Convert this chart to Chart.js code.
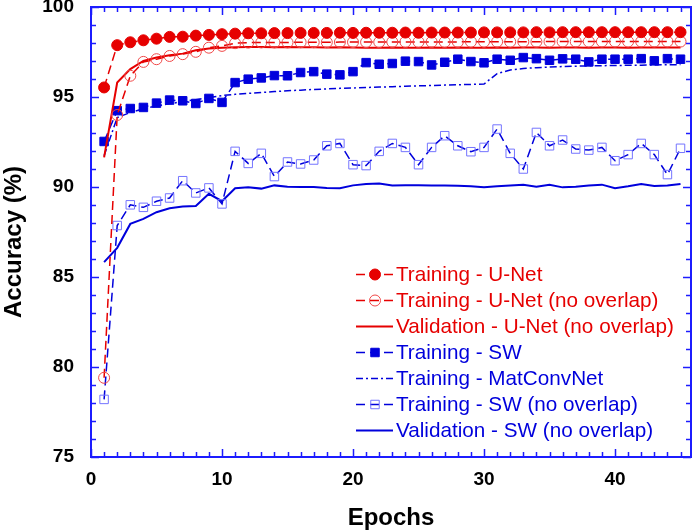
<!DOCTYPE html>
<html>
<head>
<meta charset="utf-8">
<script src="https://cdn.jsdelivr.net/npm/chart.js@4.4.1/dist/chart.umd.min.js"></script>
<style>
  html, body { margin: 0; padding: 0; background: #fff; overflow: hidden; }
  #wrap { width: 694px; height: 531px; overflow: hidden; }
</style>
</head>
<body>
<!-- canvas is 4px wider than the page: Chart.js keeps a 7px right gutter, the original only 3px -->
<div id="wrap"><canvas id="acc" width="698" height="531"></canvas></div>
<script>
// Accuracy vs epochs
const epochs = [1, 2, 3, 4, 5, 6, 7, 8, 9, 10, 11, 12, 13, 14, 15, 16, 17, 18, 19, 20,
  21, 22, 23, 24, 25, 26, 27, 28, 29, 30, 31, 32, 33, 34, 35, 36, 37, 38, 39, 40,
  41, 42, 43, 44, 45];

const trainUNet = [95.53, 97.88, 98.04, 98.15, 98.24, 98.34, 98.35, 98.41, 98.45, 98.49,
  98.52, 98.54, 98.54, 98.55, 98.55, 98.56, 98.56, 98.56, 98.57, 98.56,
  98.57, 98.57, 98.57, 98.58, 98.57, 98.58, 98.58, 98.58, 98.58, 98.59,
  98.59, 98.59, 98.59, 98.6, 98.59, 98.6, 98.6, 98.6, 98.6, 98.6,
  98.6, 98.6, 98.6, 98.6, 98.6];

const trainUNetNoOv = [79.4, 94.0, 96.18, 96.95, 97.1, 97.28, 97.38, 97.51, 97.74, 97.84,
  97.99, 98.02, 98.03, 98.03, 98.03, 98.04, 98.04, 98.04, 98.05, 98.05,
  98.05, 98.05, 98.06, 98.06, 98.06, 98.06, 98.06, 98.06, 98.07, 98.07,
  98.07, 98.07, 98.07, 98.07, 98.08, 98.08, 98.08, 98.08, 98.08, 98.08,
  98.08, 98.08, 98.08, 98.08, 98.08];

const valUNetNoOv = [91.65, 95.8, 96.55, 97.0, 97.19, 97.32, 97.41, 97.6, 97.69, 97.74,
  97.76, 97.78, 97.78, 97.77, 97.78, 97.77, 97.76, 97.75, 97.76, 97.75,
  97.74, 97.74, 97.75, 97.74, 97.74, 97.75, 97.74, 97.75, 97.74, 97.74,
  97.75, 97.74, 97.75, 97.75, 97.74, 97.75, 97.75, 97.74, 97.75, 97.75,
  97.74, 97.75, 97.75, 97.75, 97.75];

const trainSW = [92.53, 94.24, 94.36, 94.42, 94.66, 94.83, 94.79, 94.64, 94.92, 94.7,
  95.8, 95.99, 96.06, 96.19, 96.18, 96.36, 96.41, 96.27, 96.23, 96.41,
  96.91, 96.82, 96.86, 96.99, 96.97, 96.78, 96.93, 97.1, 96.97, 96.9,
  97.1, 97.04, 97.19, 97.13, 97.04, 97.12, 97.1, 96.95, 97.1, 97.1,
  97.1, 97.13, 97.01, 97.13, 97.1];

const trainMatConvNet = [91.74, 93.86, 94.14, 94.35, 94.5, 94.62, 94.75, 94.85, 94.97, 95.08,
  95.15, 95.2, 95.25, 95.3, 95.35, 95.38, 95.42, 95.45, 95.48, 95.5,
  95.53, 95.55, 95.57, 95.6, 95.62, 95.64, 95.66, 95.68, 95.7, 95.72,
  96.3, 96.5, 96.58, 96.63, 96.66, 96.69, 96.71, 96.73, 96.74, 96.75,
  96.76, 96.77, 96.78, 96.79, 96.8];

const trainSWNoOv = [78.2, 87.86, 89.01, 88.87, 89.21, 89.39, 90.35, 89.67, 89.95, 89.06,
  91.98, 91.31, 91.87, 90.58, 91.39, 91.28, 91.5, 92.29, 92.42, 91.24,
  91.19, 91.98, 92.42, 92.2, 91.24, 92.2, 92.85, 92.29, 91.96, 92.2,
  93.22, 91.87, 91.0, 93.03, 92.29, 92.61, 92.11, 92.05, 92.2, 91.46,
  91.8, 92.42, 91.8, 90.69, 92.15];

const valSWNoOv = [85.83, 86.62, 87.95, 88.23, 88.6, 88.82, 88.91, 88.95, 89.62, 89.21,
  89.93, 89.98, 89.91, 90.09, 90.02, 90.0, 90.0, 89.95, 89.93, 90.09,
  90.17, 90.2, 90.08, 90.1, 90.1, 90.09, 90.08, 90.07, 90.04, 89.98,
  90.04, 90.08, 90.13, 90.02, 90.13, 89.98, 90.02, 90.08, 90.13, 89.93,
  90.04, 90.17, 90.06, 90.09, 90.17];

const xTicksMajor = [0, 10, 20, 30, 40];
const yTicksMajor = [75, 80, 85, 90, 95, 100];

const RED = '#e60000';
const RED_LIGHT = '#f04848';
const BLUE = '#0000dc';
const BLUE_LIGHT = '#7474ff';
const FRAME = '#1c1cff';
const FONT = '"Liberation Sans", Arial, Helvetica, sans-serif';
const DASH = [9, 5];

function pts(vals) {
  return epochs.map((e, i) => ({ x: e, y: vals[i] }));
}

// blue box with inward ticks on all four sides
const framePlugin = {
  id: 'frame',
  afterDatasetsDraw(chart) {
    const { ctx, chartArea: a, scales: { x, y } } = chart;
    ctx.save();
    ctx.strokeStyle = FRAME;
    ctx.lineWidth = 1.5;
    for (let e = 0; e <= 45; e++) {
      const px = Math.round(x.getPixelForValue(e)) + 0.5;
      const len = xTicksMajor.includes(e) ? 8 : 5;
      ctx.beginPath();
      ctx.moveTo(px, a.bottom); ctx.lineTo(px, a.bottom - len);
      ctx.moveTo(px, a.top); ctx.lineTo(px, a.top + len);
      ctx.stroke();
    }
    for (let v = 75; v <= 100; v++) {
      const py = Math.round(y.getPixelForValue(v)) + 0.5;
      const len = yTicksMajor.includes(v) ? 8 : 5;
      ctx.beginPath();
      ctx.moveTo(a.left, py); ctx.lineTo(a.left + len, py);
      ctx.moveTo(a.right, py); ctx.lineTo(a.right - len, py);
      ctx.stroke();
    }
    ctx.lineWidth = 2;
    ctx.strokeRect(a.left, a.top, a.right - a.left, a.bottom - a.top);
    ctx.restore();
  },
};

function drawMarker(ctx, ds, cx, cy) {
  const r = ds.pointRadius;
  if (!r) return;
  ctx.save();
  ctx.setLineDash([]);
  ctx.lineWidth = ds.pointBorderWidth || 1;
  ctx.strokeStyle = ds.pointBorderColor;
  ctx.fillStyle = ds.pointBackgroundColor;
  ctx.beginPath();
  if (ds.pointStyle === 'rect') {
    const h = r * Math.SQRT1_2;
    ctx.rect(cx - h, cy - h, 2 * h, 2 * h);
  } else {
    ctx.arc(cx, cy, r, 0, Math.PI * 2);
  }
  ctx.fill();
  ctx.stroke();
  ctx.restore();
}

// legend inside the plot, coloured text
const legendPlugin = {
  id: 'inlineLegend',
  afterDraw(chart) {
    const { ctx } = chart;
    const x0 = 356, x1 = 393, xm = 375, xt = 396;
    ctx.save();
    chart.data.datasets.forEach((ds, i) => {
      const yy = 274.5 + i * 26;
      ctx.setLineDash(ds.borderDash || []);
      ctx.strokeStyle = ds.borderColor;
      ctx.lineWidth = ds.borderWidth;
      ctx.beginPath();
      ctx.moveTo(x0, yy); ctx.lineTo(x1, yy);
      ctx.stroke();
      drawMarker(ctx, ds, xm, yy);
      ctx.setLineDash([]);
      ctx.fillStyle = ds.textColor;
      ctx.font = '20.7px ' + FONT;
      ctx.textBaseline = 'middle';
      ctx.textAlign = 'left';
      ctx.fillText(ds.label, xt, yy + 1);
    });
    ctx.restore();
  },
};

const datasets = [
  {
    label: 'Training - U-Net', data: pts(trainUNet), textColor: RED,
    borderColor: RED, borderWidth: 1.5, borderDash: DASH,
    pointStyle: 'circle', pointRadius: 5.5, pointBackgroundColor: RED, pointBorderColor: RED, pointBorderWidth: 1,
  },
  {
    label: 'Training - U-Net (no overlap)', data: pts(trainUNetNoOv), textColor: RED,
    borderColor: RED, borderWidth: 1.5, borderDash: DASH,
    pointStyle: 'circle', pointRadius: 5.5, pointBackgroundColor: 'rgba(0,0,0,0)', pointBorderColor: RED_LIGHT, pointBorderWidth: 1,
  },
  {
    label: 'Validation - U-Net (no overlap)', data: pts(valUNetNoOv), textColor: RED,
    borderColor: RED, borderWidth: 2, pointRadius: 0,
  },
  {
    label: 'Training - SW', data: pts(trainSW), textColor: BLUE,
    borderColor: BLUE, borderWidth: 1.5, borderDash: DASH,
    pointStyle: 'rect', pointRadius: 6, pointBackgroundColor: BLUE, pointBorderColor: BLUE, pointBorderWidth: 1,
  },
  {
    label: 'Training - MatConvNet', data: pts(trainMatConvNet), textColor: BLUE,
    borderColor: BLUE, borderWidth: 1.5, borderDash: [7, 3, 2, 3], pointRadius: 0,
  },
  {
    label: 'Training - SW (no overlap)', data: pts(trainSWNoOv), textColor: BLUE,
    borderColor: BLUE, borderWidth: 1.5, borderDash: DASH,
    pointStyle: 'rect', pointRadius: 6, pointBackgroundColor: 'rgba(0,0,0,0)', pointBorderColor: BLUE_LIGHT, pointBorderWidth: 1,
  },
  {
    label: 'Validation - SW (no overlap)', data: pts(valSWNoOv), textColor: BLUE,
    borderColor: BLUE, borderWidth: 2, pointRadius: 0,
  },
];

const tickFont = { family: FONT, size: 19, weight: 'bold' };
const titleFont = { family: FONT, size: 24, weight: 'bold' };

new Chart(document.getElementById('acc'), {
  type: 'line',
  data: { datasets },
  options: {
    responsive: false,
    animation: false,
    layout: { padding: 0 },
    elements: { line: { tension: 0 } },
    plugins: { legend: { display: false }, tooltip: { enabled: false } },
    scales: {
      x: {
        type: 'linear', min: 0, max: 45.8,
        grid: { display: false }, border: { display: false },
        ticks: { stepSize: 10, includeBounds: false, padding: 3, color: '#000', font: tickFont, maxRotation: 0 },
        title: { display: true, text: 'Epochs', color: '#000', font: titleFont, padding: { top: 0, bottom: -2 } },
        afterFit(s) { s.height = 74; s.paddingLeft = 0; s.paddingRight = 3; },
      },
      y: {
        type: 'linear', min: 75, max: 100,
        grid: { display: false }, border: { display: false },
        ticks: { stepSize: 5, padding: 9, color: '#000', font: tickFont },
        // trailing spaces nudge the rotated title down a little, as in the original
        title: { display: true, text: 'Accuracy (%)   ', color: '#000', font: titleFont, padding: { top: 0, bottom: 0 } },
        afterFit(s) { s.width = 91; s.paddingTop = 7; s.paddingBottom = 0; },
      },
    },
  },
  plugins: [framePlugin, legendPlugin],
});
</script>
</body>
</html>
